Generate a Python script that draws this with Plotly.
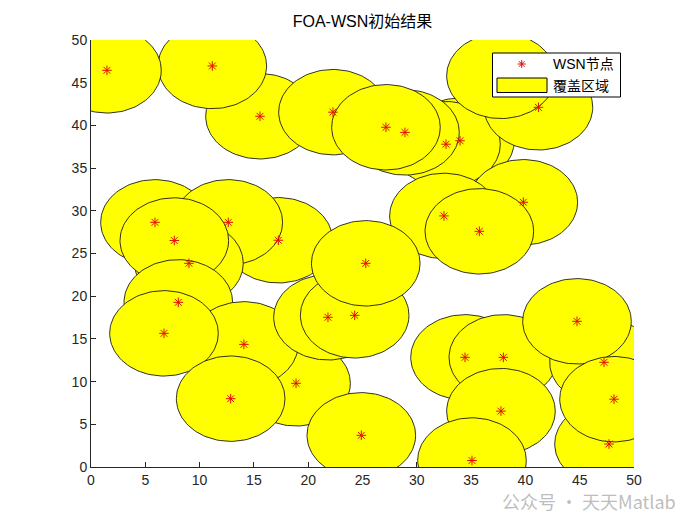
import numpy as np
import plotly.graph_objects as go

# Sensor node positions (drawing order: later circles lie on top)
node_x = [15.56, 11.17, 1.47, 22.28, 33.98, 32.69, 28.91, 27.16, 41.2, 37.75,
          39.81, 32.5, 35.76, 5.89, 17.25, 12.64, 9.02, 7.67, 8.04, 18.88,
          14.08, 6.72, 12.86, 21.82, 24.28, 25.3, 24.89, 34.44, 37.97, 37.75,
          35.08, 47.24, 47.7, 44.75, 48.16]
node_y = [41.07, 46.96, 46.45, 41.55, 38.2, 37.8, 39.18, 39.78, 42.12, 45.8,
          31.0, 29.4, 27.6, 28.65, 26.55, 28.65, 23.85, 26.52, 19.28, 9.8,
          14.36, 15.65, 8.0, 17.53, 17.76, 23.85, 3.71, 12.84, 12.84, 6.54,
          0.76, 12.26, 2.69, 17.06, 7.94]
radius = 5.0

title_text = "FOA-WSN初始结果"
node_label = "WSN节点"
area_label = "覆盖区域"
x_ticks = [0, 5, 10, 15, 20, 25, 30, 35, 40, 45, 50]
y_ticks = [0, 5, 10, 15, 20, 25, 30, 35, 40, 45, 50]

font_main = "Liberation Sans, Arial, Noto Sans CJK SC, sans-serif"
STAR_COLOR = "#e01000"
FILL = "#ffff00"
EDGE = "#1a1a1a"

# plot-area geometry in pixels
L, R, T, B = 91, 634, 40, 467


def px(xp):
    return (xp - L) / (R - L)


def py(yp):
    return (B - yp) / (B - T)


fig = go.Figure()
theta = np.linspace(0, 2 * np.pi, 121)
for i, (cx, cy) in enumerate(zip(node_x, node_y)):
    fig.add_trace(go.Scatter(
        x=cx + radius * np.cos(theta), y=cy + radius * np.sin(theta),
        mode="lines", fill="toself", fillcolor=FILL,
        line=dict(color=EDGE, width=0.9),
        name=area_label, showlegend=False, hoverinfo="skip"))

fig.add_trace(go.Scatter(
    x=node_x, y=node_y, mode="markers", name=node_label, showlegend=False,
    marker=dict(symbol="asterisk-open", size=8, color=STAR_COLOR,
                line=dict(color=STAR_COLOR, width=1))))

axis_common = dict(range=[0, 50], showgrid=False, zeroline=False,
                   showline=True, linecolor="#262626", linewidth=1,
                   ticks="inside", ticklen=5, tickcolor="#262626",
                   tickfont=dict(size=14, color="#262626", family=font_main),
                   layer="below traces", mirror=False)
fig.update_xaxes(tickvals=x_ticks, ticktext=[str(v) for v in x_ticks], **axis_common)
fig.update_yaxes(tickvals=y_ticks, ticktext=[str(v) for v in y_ticks], **axis_common)

# ---- legend box (MATLAB style) ----
shapes = [
    dict(type="rect", xref="paper", yref="paper", layer="above",
         x0=px(492.5), x1=px(620.5), y0=py(97), y1=py(53),
         fillcolor="white", line=dict(color="black", width=1)),
    dict(type="rect", xref="paper", yref="paper", layer="above",
         x0=px(497), x1=px(547), y0=py(92.5), y1=py(78),
         fillcolor=FILL, line=dict(color="black", width=1)),
]
# asterisk legend symbol (8 arms)
sx, sy, r = 521.7, 64.0, 4.0
d = r * 0.7071
arms = [((sx - r, sy), (sx + r, sy)), ((sx, sy - r), (sx, sy + r)),
        ((sx - d, sy - d), (sx + d, sy + d)), ((sx - d, sy + d), (sx + d, sy - d))]
path = " ".join(f"M{px(a[0]):.5f},{py(a[1]):.5f} L{px(b[0]):.5f},{py(b[1]):.5f}"
                for a, b in arms)
shapes.append(dict(type="path", xref="paper", yref="paper", layer="above",
                   path=path, line=dict(color=STAR_COLOR, width=1)))

annotations = [
    dict(text=node_label, xref="paper", yref="paper", x=px(551), y=py(64),
         xanchor="left", yanchor="middle", showarrow=False,
         font=dict(size=14, color="black", family=font_main)),
    dict(text=area_label, xref="paper", yref="paper", x=px(551), y=py(85.5),
         xanchor="left", yanchor="middle", showarrow=False,
         font=dict(size=14, color="black", family=font_main)),
    dict(text="公众号 · 天天Matlab", xref="paper", yref="paper",
         x=px(678), y=py(501), xanchor="right", yanchor="middle", showarrow=False,
         font=dict(size=18, color="rgba(160,160,160,0.7)",
                   family="Noto Sans CJK SC, sans-serif")),
]

fig.update_layout(
    width=700, height=525,
    margin=dict(l=L, r=700 - R, t=T, b=525 - B),
    paper_bgcolor="white", plot_bgcolor="white",
    title=dict(text=title_text, x=(L + R) / 2 / 700, xanchor="center",
               y=1 - 21 / 525, yanchor="middle", yref="container",
               font=dict(size=16, color="black", family=font_main)),
    showlegend=False,
    shapes=shapes,
    annotations=annotations,
)

fig.write_html("out.html", config={"displayModeBar": False},
               post_script="document.body.style.margin='0';")
